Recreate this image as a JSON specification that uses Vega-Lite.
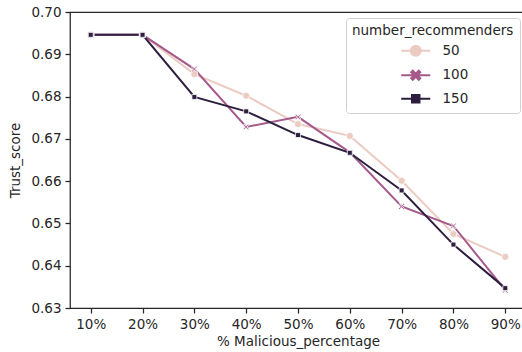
{
  "$schema": "https://vega.github.io/schema/vega-lite/v6.json",
  "width": 456,
  "height": 296,
  "autosize": "none",
  "padding": {"left": 70, "top": 12, "right": 0, "bottom": 44},
  "background": "white",
  "config": {
    "font": "DejaVu Sans",
    "view": {"stroke": "#262626", "strokeWidth": 1.25},
    "axis": {
      "grid": false, "domain": false,
      "tickColor": "#262626", "tickSize": 5, "tickWidth": 1.25,
      "labelColor": "#262626", "labelFontSize": 13.5, "labelFont": "DejaVu Sans", "labelPadding": 4,
      "titleFont": "DejaVu Sans", "titleFontSize": 13.5, "titleFontWeight": "normal", "titleColor": "#262626"
    }
  },
  "data": {
    "values": [
      {"Malicious_percentage": "10%", "number_recommenders": 50, "Trust_score": 0.6946},
      {"Malicious_percentage": "20%", "number_recommenders": 50, "Trust_score": 0.6946},
      {"Malicious_percentage": "30%", "number_recommenders": 50, "Trust_score": 0.6853},
      {"Malicious_percentage": "40%", "number_recommenders": 50, "Trust_score": 0.6802},
      {"Malicious_percentage": "50%", "number_recommenders": 50, "Trust_score": 0.6735},
      {"Malicious_percentage": "60%", "number_recommenders": 50, "Trust_score": 0.6707},
      {"Malicious_percentage": "70%", "number_recommenders": 50, "Trust_score": 0.6601},
      {"Malicious_percentage": "80%", "number_recommenders": 50, "Trust_score": 0.6475},
      {"Malicious_percentage": "90%", "number_recommenders": 50, "Trust_score": 0.6421},
      {"Malicious_percentage": "10%", "number_recommenders": 100, "Trust_score": 0.6946},
      {"Malicious_percentage": "20%", "number_recommenders": 100, "Trust_score": 0.6946},
      {"Malicious_percentage": "30%", "number_recommenders": 100, "Trust_score": 0.6865},
      {"Malicious_percentage": "40%", "number_recommenders": 100, "Trust_score": 0.6728},
      {"Malicious_percentage": "50%", "number_recommenders": 100, "Trust_score": 0.6752},
      {"Malicious_percentage": "60%", "number_recommenders": 100, "Trust_score": 0.6668},
      {"Malicious_percentage": "70%", "number_recommenders": 100, "Trust_score": 0.6540},
      {"Malicious_percentage": "80%", "number_recommenders": 100, "Trust_score": 0.6494},
      {"Malicious_percentage": "90%", "number_recommenders": 100, "Trust_score": 0.6342},
      {"Malicious_percentage": "10%", "number_recommenders": 150, "Trust_score": 0.6946},
      {"Malicious_percentage": "20%", "number_recommenders": 150, "Trust_score": 0.6946},
      {"Malicious_percentage": "30%", "number_recommenders": 150, "Trust_score": 0.6799},
      {"Malicious_percentage": "40%", "number_recommenders": 150, "Trust_score": 0.6765},
      {"Malicious_percentage": "50%", "number_recommenders": 150, "Trust_score": 0.6709},
      {"Malicious_percentage": "60%", "number_recommenders": 150, "Trust_score": 0.6667},
      {"Malicious_percentage": "70%", "number_recommenders": 150, "Trust_score": 0.6578},
      {"Malicious_percentage": "80%", "number_recommenders": 150, "Trust_score": 0.6450},
      {"Malicious_percentage": "90%", "number_recommenders": 150, "Trust_score": 0.6347}
    ]
  },
  "encoding": {
    "x": {
      "field": "Malicious_percentage", "type": "ordinal",
      "sort": ["10%", "20%", "30%", "40%", "50%", "60%", "70%", "80%", "90%"],
      "scale": {"type": "point", "padding": 0.4},
      "axis": {"title": "% Malicious_percentage", "labelAngle": 0, "titlePadding": 4}
    },
    "y": {
      "field": "Trust_score", "type": "quantitative",
      "scale": {"domain": [0.63, 0.70], "nice": false, "zero": false},
      "axis": {"title": "Trust_score", "values": [0.63, 0.64, 0.65, 0.66, 0.67, 0.68, 0.69, 0.70], "format": ".2f", "titlePadding": 8}
    },
    "color": {
      "field": "number_recommenders", "type": "nominal",
      "scale": {"domain": [50, 100, 150], "range": ["#ebcbc2", "#a55a8a", "#2d1e3f"]},
      "legend": null
    }
  },
  "layer": [
    {"mark": {"type": "line", "strokeWidth": 2}},
    {
      "mark": {"type": "point", "filled": true, "opacity": 1, "size": 49, "stroke": "white", "strokeWidth": 0.75},
      "encoding": {
        "shape": {
          "field": "number_recommenders", "type": "nominal",
          "scale": {"domain": [50, 100, 150], "range": ["circle", "M-0.85,-0.6L-0.6,-0.85L0,-0.25L0.6,-0.85L0.85,-0.6L0.25,0L0.85,0.6L0.6,0.85L0,0.25L-0.6,0.85L-0.85,0.6L-0.25,0Z", "M-0.7,-0.7L0.7,-0.7L0.7,0.7L-0.7,0.7Z"]},
          "legend": null
        }
      }
    },
    {
      "transform": [{"filter": "datum.Trust_score < 0"}],
      "mark": {"type": "point", "filled": true},
      "encoding": {
        "shape": {
          "field": "number_recommenders", "type": "nominal",
          "scale": {"domain": [50, 100, 150], "range": [
            "M-2.9,0L2.9,0M-1,0A1,1,0,1,0,1,0A1,1,0,1,0,-1,0Z",
            "M-2.9,0L2.9,0M-0.9,-0.6L-0.6,-0.9L0,-0.3L0.6,-0.9L0.9,-0.6L0.3,0L0.9,0.6L0.6,0.9L0,0.3L-0.6,0.9L-0.9,0.6L-0.3,0Z",
            "M-2.9,0L2.9,0M-0.75,-0.75L0.75,-0.75L0.75,0.75L-0.75,0.75Z"
          ]},
          "legend": {
            "orient": "top-right", "offset": 6,
            "title": "number_recommenders",
            "titleFontSize": 13.5, "titleFontWeight": "normal", "titleColor": "#262626", "titlePadding": 6.5,
            "labelFontSize": 13.5, "labelColor": "#262626",
            "symbolSize": 100, "symbolOffset": 57, "labelOffset": 20, "rowPadding": 6.5,
            "padding": 6, "strokeColor": "#d0d0d0", "fillColor": "white", "cornerRadius": 3,
            "symbolStrokeWidth": 2, "symbolOpacity": 1,
            "symbolFillColor": {"expr": "scale('color', datum.value)"},
            "symbolStrokeColor": {"expr": "scale('color', datum.value)"}
          }
        }
      }
    }
  ],
  "resolve": {"scale": {"shape": "independent"}}
}
